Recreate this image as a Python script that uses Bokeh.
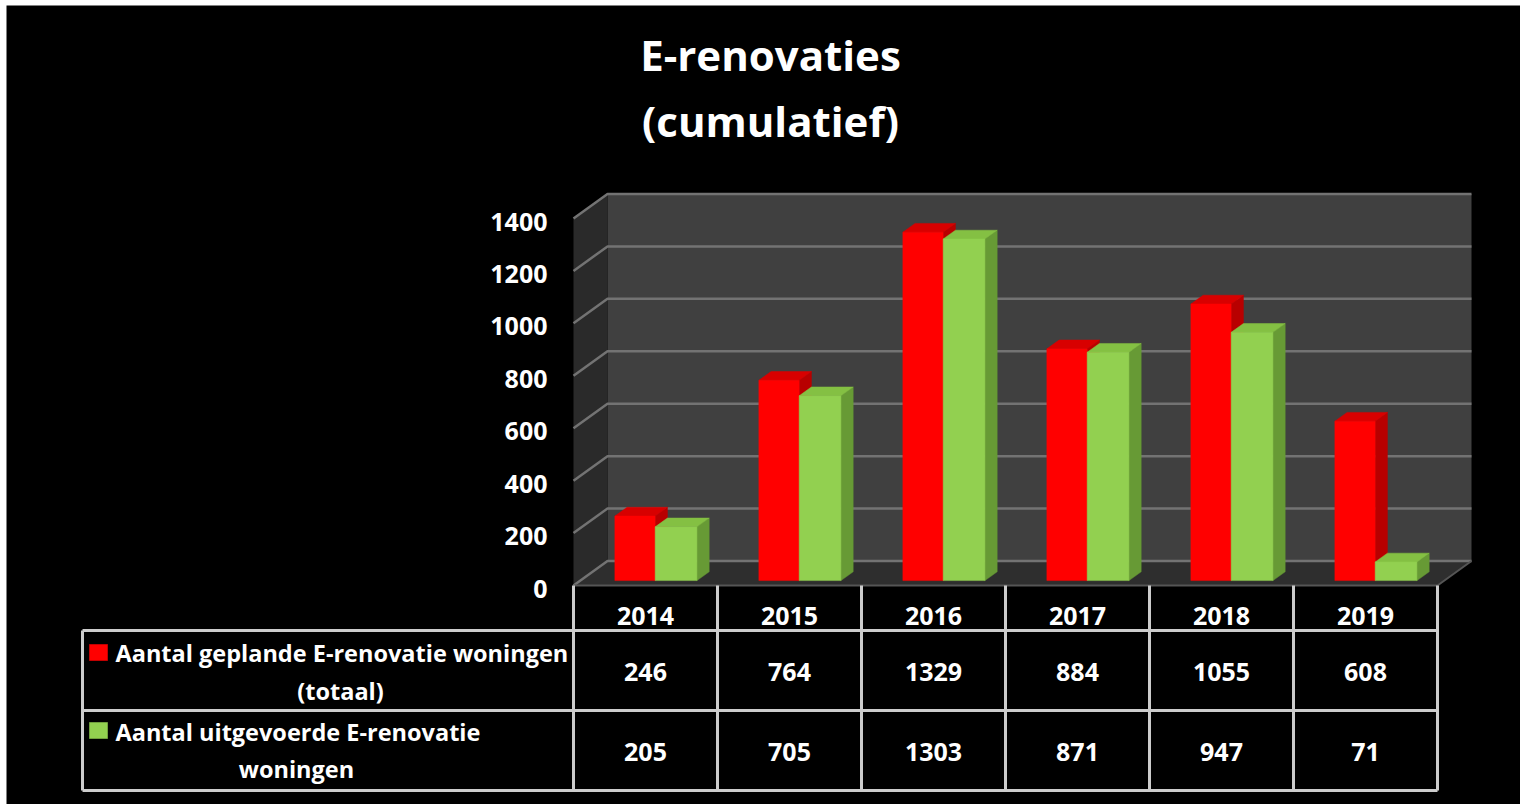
from bokeh.plotting import figure
from bokeh.models import Range1d
from bokeh.core.properties import value
from bokeh.embed import file_html
from bokeh.resources import INLINE

# ---------------- data ----------------
title_lines = ["E-renovaties", "(cumulatief)"]
years = ["2014", "2015", "2016", "2017", "2018", "2019"]
gepland = [246, 764, 1329, 884, 1055, 608]
uitgevoerd = [205, 705, 1303, 871, 947, 71]
series_label_1 = ["Aantal geplande E-renovatie woningen", "(totaal)"]
series_label_2 = ["Aantal uitgevoerde E-renovatie", "woningen"]
y_ticks = [0, 200, 400, 600, 800, 1000, 1200, 1400]
y_tick_labels = ["0", "200", "400", "600", "800", "1000", "1200", "1400"]

# ---------------- layout constants ----------------
W, H = 1520, 804
FL, FT = 6, 5            # white strips left / top
X0PX, SX = 573, 144.0    # front plane: x=0 at px 573, 144 px per category
Y0PX = 585               # front plane: value 0 at py 585
Y_MAX = max(y_ticks)
SY = 367.0 / Y_MAX       # px per unit
DXd = 34.0 / SX          # depth shift in data units
DYd = 24.5 / SY
D0, D1 = 0.2, 0.56       # bar depth (front, back)
N = len(years)

def dx(px):
    return (px - X0PX) / SX

def dy(py):
    return (Y0PX - py) / SY

def P(x, v, d):
    return (x + d * DXd, v + d * DYd)

FONT = value("Open Sans")

p = figure(width=W, height=H,
           x_range=Range1d(dx(FL), dx(W)), y_range=Range1d(dy(H), dy(FT)),
           output_backend="svg", toolbar_location=None,
           x_axis_type=None, y_axis_type=None,
           min_border_left=FL, min_border_top=FT, min_border_right=0, min_border_bottom=0,
           border_fill_color="white", background_fill_color="black",
           outline_line_color=None)

# ---------------- walls ----------------
def poly(pts):
    return [q[0] for q in pts], [q[1] for q in pts]

walls = [
    (poly([P(0, 0, 1), P(N, 0, 1), P(N, Y_MAX, 1), P(0, Y_MAX, 1)]), "#404040"),   # back wall
    (poly([P(0, 0, 0), P(0, 0, 1), P(0, Y_MAX, 1), P(0, Y_MAX, 0)]), "#2a2a2a"),   # side wall
    (poly([P(0, 0, 0), P(N, 0, 0), P(N, 0, 1), P(0, 0, 1)]), "#2e2e2e"),           # floor
]
p.patches([w[0][0] for w in walls], [w[0][1] for w in walls],
          fill_color=[w[1] for w in walls], line_color=None)

gx, gy = [], []
for v in y_ticks:
    a, b, c = P(0, v, 0), P(0, v, 1), P(N, v, 1)
    gx.append([a[0], b[0], c[0]])
    gy.append([a[1], b[1], c[1]])
p.multi_line(gx, gy, line_color="#737373", line_width=2.5)

# floor front / right edge
fa, fb, fc = P(0, 0, 0), P(N, 0, 0), P(N, 0, 1)
p.line([fa[0], fb[0], fc[0]], [fa[1], fb[1], fc[1]], line_color="#555555", line_width=2)

# ---------------- bars ----------------
series = [
    (gepland, 0.24, 0.52, "#ff0000", "#d80000", "#b80000"),
    (uitgevoerd, 0.52, 0.81, "#92d050", "#84c043", "#679a35"),
]
bx, by, bc = [], [], []
for i in range(N):
    for vals, o0, o1, cf, ct, cs in series:
        v = vals[i]
        x0, x1 = i + o0, i + o1
        side = poly([P(x1, 0, D0), P(x1, v, D0), P(x1, v, D1), P(x1, 0, D1)])
        top = poly([P(x0, v, D0), P(x1, v, D0), P(x1, v, D1), P(x0, v, D1)])
        front = poly([P(x0, 0, D0), P(x1, 0, D0), P(x1, v, D0), P(x0, v, D0)])
        for (xs, ys), c in ((side, cs), (top, ct), (front, cf)):
            bx.append(xs); by.append(ys); bc.append(c)
p.patches(bx, by, fill_color=bc, line_color=bc, line_width=0.5)

# ---------------- y tick labels ----------------
p.text(x=[0] * len(y_ticks), y=y_ticks, text=y_tick_labels, x_offset=-26, y_offset=3,
       text_align="right", text_baseline="middle", text_color="white",
       text_font=FONT, text_font_style="bold", text_font_size="25px")

# ---------------- title ----------------
p.text(x=[dx(770)] * 2, y=[dy(54), dy(120)], text=title_lines,
       text_align="center", text_baseline="middle", text_color="white",
       text_font=FONT, text_font_style="bold", text_font_size="42px")

# ---------------- data table ----------------
r_head, r1, r2 = dy(630), dy(710), dy(790)
leg_left = dx(82)
lx, ly = [], []
for i in range(N + 1):
    lx.append([i, i]); ly.append([0, r2])
for r in (r_head, r1, r2):
    lx.append([leg_left, N]); ly.append([r, r])
lx.append([leg_left, leg_left]); ly.append([r_head, r2])
p.multi_line(lx, ly, line_color="#cccccc", line_width=3)

cx = [i + 0.5 for i in range(N)]
p.text(x=cx, y=[dy(615)] * N, text=years, text_align="center", text_baseline="middle",
       text_color="white", text_font=FONT, text_font_style="bold", text_font_size="25px")
p.text(x=cx, y=[dy(671)] * N, text=[str(v) for v in gepland], text_align="center",
       text_baseline="middle", text_color="white", text_font=FONT, text_font_style="bold",
       text_font_size="25px")
p.text(x=cx, y=[dy(751)] * N, text=[str(v) for v in uitgevoerd], text_align="center",
       text_baseline="middle", text_color="white", text_font=FONT, text_font_style="bold",
       text_font_size="25px")

# legend markers
p.rect(x=[dx(98), dx(98)], y=[dy(652), dy(730)], width=18, height=16,
       width_units="screen", height_units="screen",
       fill_color=["#ff0000", "#92d050"], line_color=["#c00000", "#6f9e3c"], line_width=1)

# legend labels
p.text(x=[dx(115), dx(115)], y=[dy(652), dy(731)], text=[series_label_1[0], series_label_2[0]],
       text_align="left", text_baseline="middle", text_color="white",
       text_font=FONT, text_font_style="bold", text_font_size="23.5px")
p.text(x=[dx(340), dx(296)], y=[dy(690), dy(768)], text=[series_label_1[1], series_label_2[1]],
       text_align="center", text_baseline="middle", text_color="white",
       text_font=FONT, text_font_style="bold", text_font_size="23.5px")

open("out.html", "w").write(file_html(p, INLINE))
